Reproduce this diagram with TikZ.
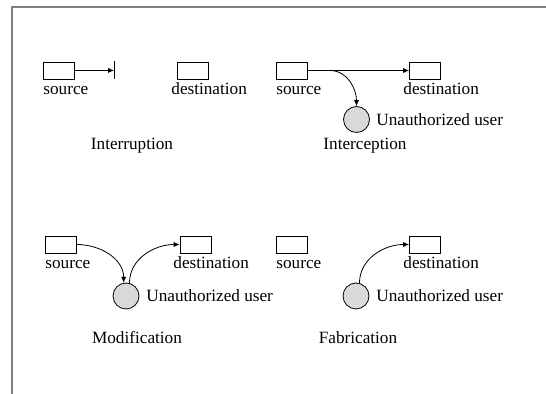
\documentclass[tikz,border=0pt]{standalone}
\usepackage{fontspec}
\setmainfont{Liberation Serif}
\newfontfamily\labelfont{Liberation Serif}
\usepackage{tikz}
\usetikzlibrary{arrows.meta,positioning,calc}

\begin{document}
\begin{tikzpicture}[x=0.5pt,y=-0.5pt,
    box/.style={rectangle,draw,minimum width=15.5pt,minimum height=8.5pt,inner sep=0pt},
    user/.style={circle,draw,fill=black!15,minimum size=13pt,inner sep=0pt},
    lbl/.style={inner sep=0pt,font=\labelfont\fontsize{8.6}{10}\selectfont},
    arr/.style={-{Latex[length=3pt,width=2.6pt]}},
    frame/.style={draw=gray,line width=0.8pt}]
  \useasboundingbox (0,0) rectangle (546,394);
  \draw[frame] (546,7) -- (12,7) -- (12,394);
  % interruption
  \node[box] (src1) at (59,70.5) {};
  \node[box] (dst1) at (192.5,70.5) {};
  \node[lbl,anchor=base west] (src1l) at (43,95) {source};
  \node[lbl,anchor=base west] (dst1l) at (171,95) {destination};
  \coordinate (cut) at (114,70.5);
  \draw[arr] (src1.east) -- (cut);
  \draw ($(cut)+(0,-9)$) -- ($(cut)+(0,9)$);
  \node[lbl,anchor=base] (name1) at (132,150) {Interruption};
  % interception
  \node[box] (src2) at (291.5,70.5) {};
  \node[box] (dst2) at (425,70.5) {};
  \node[lbl,anchor=base west] (src2l) at (276,95) {source};
  \node[lbl,anchor=base west] (dst2l) at (403,95) {destination};
  \node[user] (eve2) at (356.5,119.5) {};
  \node[lbl,anchor=west] (eve2l) at (376,119.5) {Unauthorized user};
  \coordinate (tap) at (330,70.5);
  \draw[arr] (src2.east) -- (dst2.west);
  \draw[arr] (tap) to[out=0,in=90] (eve2.north);
  \node[lbl,anchor=base] (name2) at (365,150) {Interception};
  % modification
  \node[box] (src3) at (61,244.5) {};
  \node[box] (dst3) at (195.5,244.5) {};
  \node[lbl,anchor=base west] (src3l) at (45,269) {source};
  \node[lbl,anchor=base west] (dst3l) at (173,269) {destination};
  \node[user] (eve3) at (126,296) {};
  \node[lbl,anchor=west] (eve3l) at (146,296) {Unauthorized user};
  \draw[arr] (src3.east) to[out=0,in=90] (eve3.100);
  \draw[arr] (eve3.75) to[out=90,in=180] (dst3.west);
  \node[lbl,anchor=base] (name3) at (137,344) {Modification};
  % fabrication
  \node[box] (src4) at (291.5,244.5) {};
  \node[box] (dst4) at (425,244.5) {};
  \node[lbl,anchor=base west] (src4l) at (276,269) {source};
  \node[lbl,anchor=base west] (dst4l) at (403,269) {destination};
  \node[user] (eve4) at (356,296) {};
  \node[lbl,anchor=west] (eve4l) at (376,296) {Unauthorized user};
  \draw[arr] (eve4.75) to[out=90,in=180] (dst4.west);
  \node[lbl,anchor=base] (name4) at (358,344) {Fabrication};
\end{tikzpicture}
\end{document}
